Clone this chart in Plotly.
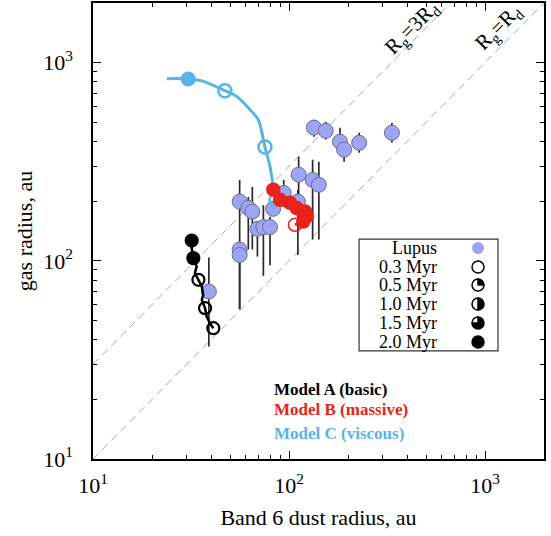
import plotly.graph_objects as go
import numpy as np

# ---------------- data ----------------
lupus_x = [134, 154, 182, 191, 228, 335, 112, 132, 142, 56, 62, 65, 69, 74, 80, 83, 94, 111, 56, 56, 39]
lupus_y = [470, 453, 399, 364, 394, 443, 272, 256, 242, 199, 185, 177, 145, 148, 148, 183, 220, 199, 114, 107, 70]
lupus_err_plus = [45, 50, 71, 45, 49, 54, 63, 68, 74, 57, 25, 59, 7, 43, 19, 15, 36, 29, 6, 6, 34]
lupus_err_minus = [47, 44, 56, 48, 43, 49, 69, 128, 114, 81, 71, 63, 40, 64, 53, 15, 33, 92, 57, 50, 33]

# Model A (basic) track
modelA_x = [31.9, 31.9, 32.5, 33.8, 33.1, 34.5, 35.9, 36.5, 35.9, 37.3, 38.0, 39.5, 41.1]
modelA_y = [126.6, 115.9, 103.2, 93.6, 86.7, 80.2, 74.2, 67.3, 63.5, 57.7, 52.3, 48.5, 45.7]
modelA_age_x = [41.1, 37.3, 34.5, 32.5, 31.9]
modelA_age_y = [45.7, 57.7, 80.2, 103.2, 126.6]

# Model B (massive) track
modelB_x = [107.3, 118.3, 123.1, 120.7, 109.4, 101.2, 90.0, 83.2]
modelB_y = [152.0, 157.9, 167.4, 177.4, 184.6, 196.3, 203.2, 228.4]
modelB_age_x = [107.3, 118.3, 123.1, 120.7, 109.4, 101.2, 90.0, 83.2]
modelB_age_y = [152.0, 157.9, 167.4, 177.4, 184.6, 196.3, 203.2, 228.4]
modelB_age_filled = [False, True, True, True, True, True, True, True]

# Model C (viscous) track
modelC_x = [23.8, 30.6, 36.5, 47.1, 54.1, 63.2, 69.7, 72.5, 75.4, 80.0, 83.2, 85.9]
modelC_y = [830, 827, 805, 722, 676, 579, 515, 450, 375, 299, 237, 203]
modelC_age_x = [85.9, 75.4, 47.1]
modelC_age_y = [203, 375, 722]
modelC_final_x = [30.6]
modelC_final_y = [827]

diag_ratios = [1, 3]
x_ticks = [10, 100, 1000]
x_ticktext = ["10<sup>1</sup>", "10<sup>2</sup>", "10<sup>3</sup>"]
minor_ticks = [20, 30, 40, 50, 60, 70, 80, 90, 200, 300, 400, 500, 600, 700, 800, 900, 2000]

legend_labels = ["Lupus", "0.3 Myr", "0.5 Myr", "1.0 Myr", "1.5 Myr", "2.0 Myr"]
legend_fill = [None, 0.0, 0.25, 0.5, 0.75, 1.0]

# ---------------- style ----------------
FONT = "Liberation Serif"
LUPUS = "#9da3f5"
RED = "#e8231a"
BLUE = "#56b4e9"
XMIN, XMAX = 10, 2000

fig = go.Figure()

for r in diag_ratios:
    fig.add_trace(go.Scatter(
        x=[XMIN, XMAX / r], y=[XMIN * r, XMAX], mode="lines",
        line=dict(color="#a8a8a8", width=1, dash="8px,5px"),
        hoverinfo="skip", showlegend=False))

fig.add_trace(go.Scatter(
    x=lupus_x, y=lupus_y, mode="markers",
    marker=dict(size=15, color=LUPUS, line=dict(color="#6e6e86", width=1)),
    error_y=dict(type="data", symmetric=False, array=lupus_err_plus,
                 arrayminus=lupus_err_minus, color="#2a2a2a", thickness=1.7, width=0),
    showlegend=False))

# Model C
fig.add_trace(go.Scatter(x=modelC_x, y=modelC_y, mode="lines",
                         line=dict(color=BLUE, width=3, shape="spline"), showlegend=False))
fig.add_trace(go.Scatter(x=modelC_age_x, y=modelC_age_y, mode="markers",
                         marker=dict(symbol="circle-open", size=13, color=BLUE, line=dict(width=2.5)),
                         showlegend=False))
fig.add_trace(go.Scatter(x=modelC_final_x, y=modelC_final_y, mode="markers",
                         marker=dict(symbol="circle", size=15, color=BLUE), showlegend=False))

# Model B
fig.add_trace(go.Scatter(x=modelB_x, y=modelB_y, mode="lines",
                         line=dict(color=RED, width=3), showlegend=False))
fig.add_trace(go.Scatter(
    x=modelB_age_x, y=modelB_age_y, mode="markers",
    marker=dict(symbol=["circle" if f else "circle-open" for f in modelB_age_filled],
                size=13, color=RED, line=dict(width=1.5, color=RED)),
    showlegend=False))

# Model A
fig.add_trace(go.Scatter(x=modelA_x, y=modelA_y, mode="lines",
                         line=dict(color="black", width=2.5), showlegend=False))
fig.add_trace(go.Scatter(
    x=modelA_age_x, y=modelA_age_y, mode="markers",
    marker=dict(symbol=["circle-open", "circle-open", "circle-open", "circle", "circle"],
                size=12, color="black", line=dict(width=2.2, color="black")),
    showlegend=False))

# ---------------- legend box with pie glyphs ----------------
bx0, bx1, by0, by1 = 0.590, 0.898, 0.237, 0.482
fig.add_shape(type="rect", xref="paper", yref="paper", x0=bx0, x1=bx1, y0=by0, y1=by1,
              line=dict(color="#333333", width=1.2), fillcolor="white", layer="below")
row_y = [0.4627, 0.4211, 0.3816, 0.3399, 0.2982, 0.2566]
gx = 0.8537
hw, hh = 6.0 / 451, 6.0 / 456
for lab, f, yy in zip(legend_labels, legend_fill, row_y):
    fig.add_annotation(x=0.768, y=yy, xref="paper", yref="paper", text=lab, showarrow=False,
                       xanchor="right", yanchor="middle", font=dict(family=FONT, size=18, color="black"))
    if f is None:
        vals, cols, lw = [1], [LUPUS], 0
    elif f == 0:
        vals, cols, lw = [1], ["white"], 1.5
    elif f == 1:
        vals, cols, lw = [1], ["black"], 1.5
    else:
        vals, cols, lw = [f, 1 - f], ["black", "white"], 1.5
    fig.add_trace(go.Pie(values=vals, sort=False, direction="clockwise", rotation=0,
                         marker=dict(colors=cols, line=dict(color="black", width=lw)),
                         textinfo="none", hoverinfo="skip", showlegend=False,
                         domain=dict(x=[gx - hw, gx + hw], y=[yy - hh, yy + hh])))

# Model labels
for txt, col, yy in [("Model A (basic)", "black", 0.1535),
                     ("Model B (massive)", RED, 0.1075),
                     ("Model C (viscous)", BLUE, 0.057)]:
    fig.add_annotation(x=0.397, y=yy, xref="paper", yref="paper", text="<b>" + txt + "</b>",
                       showarrow=False, xanchor="left", yanchor="middle",
                       font=dict(family=FONT, size=17, color=col))

# diagonal labels
fig.add_annotation(x=2.638, y=3.152, xref="x", yref="y", text="R<sub>g</sub>=3R<sub>d</sub>",
                   showarrow=False, textangle=-45, xshift=-2, yshift=5,
                   font=dict(family=FONT, size=21, color="black"))
fig.add_annotation(x=3.077, y=3.152, xref="x", yref="y", text="R<sub>g</sub>=R<sub>d</sub>",
                   showarrow=False, textangle=-45, xshift=-2, yshift=5,
                   font=dict(family=FONT, size=21, color="black"))

axis_common = dict(
    type="log", showline=True, linecolor="black", linewidth=1.5, mirror="allticks",
    ticks="inside", ticklen=8, tickwidth=1.2, tickcolor="black",
    showgrid=False, zeroline=False, automargin=False,
    tickvals=x_ticks, ticktext=x_ticktext,
    tickfont=dict(family=FONT, size=22, color="black"),
    minor=dict(ticks="inside", ticklen=4, tickwidth=1, tickcolor="black", tickvals=minor_ticks, showgrid=False),
)

fig.update_layout(
    width=551, height=536,
    margin=dict(l=93, r=7, t=3, b=77),
    paper_bgcolor="white", plot_bgcolor="white",
    font=dict(family=FONT, color="black"),
    xaxis=dict(axis_common, range=[1, np.log10(XMAX)], ticklabelstandoff=6,
               title=dict(text="Band 6 dust radius, au", font=dict(family=FONT, size=22), standoff=12)),
    yaxis=dict(axis_common, range=[1, np.log10(XMAX)], ticklabelstandoff=14,
               title=dict(text="gas radius, au", font=dict(family=FONT, size=22), standoff=4)),
)

fig.write_html("out.html", config={"displayModeBar": False},
               post_script="document.body.style.margin='0';document.body.style.overflow='hidden';")
